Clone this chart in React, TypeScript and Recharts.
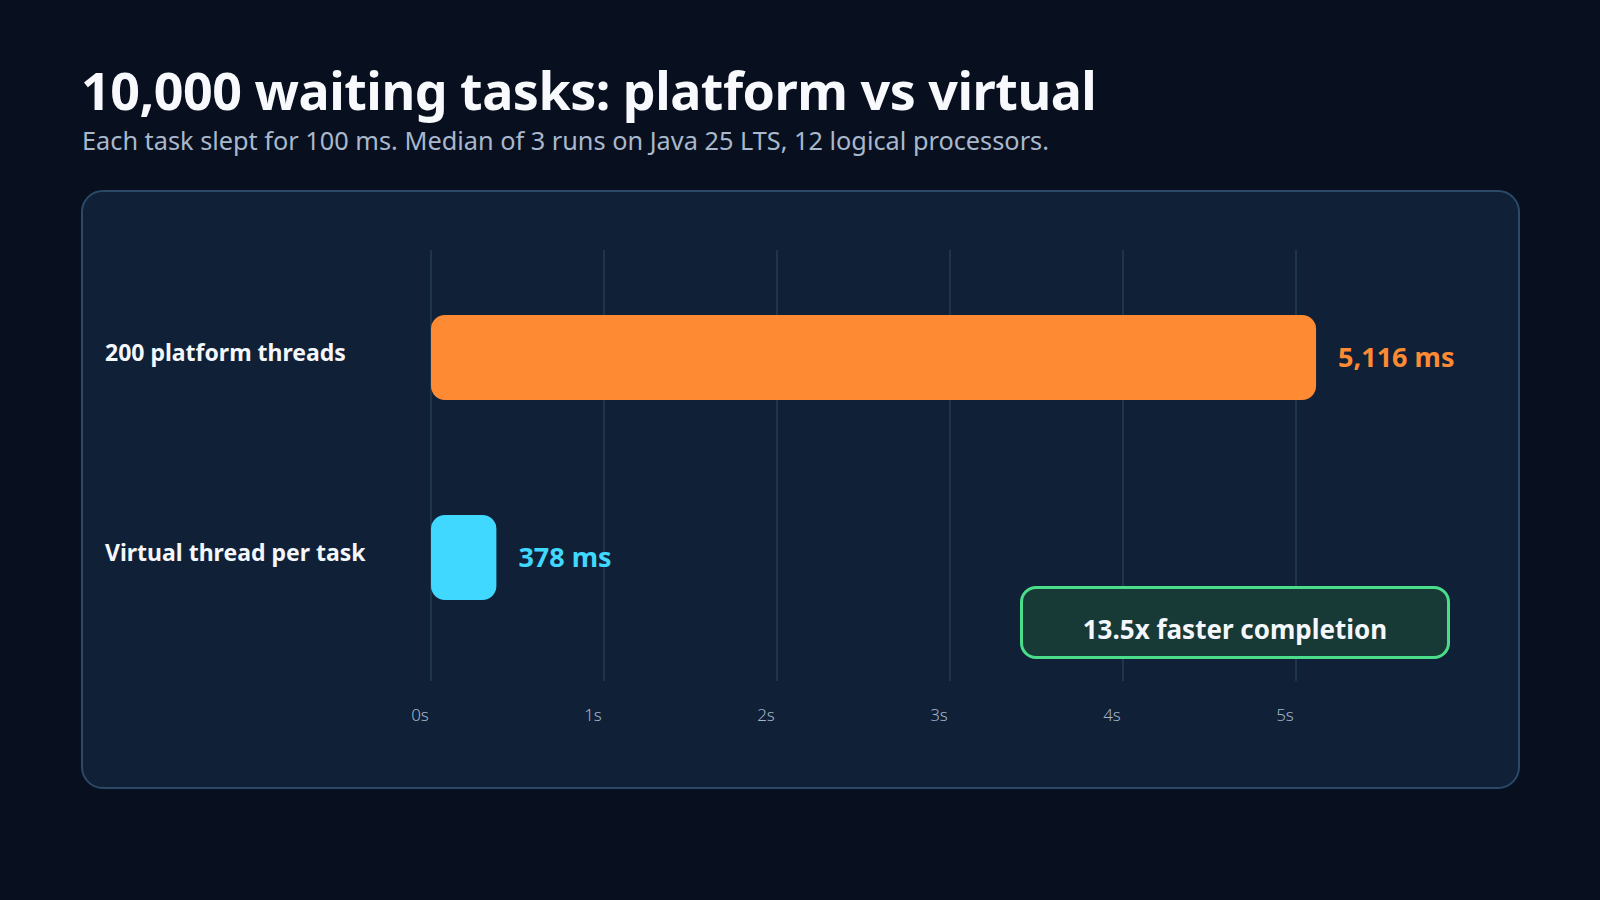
import React from "react";
import { BarChart, Bar, XAxis, YAxis, CartesianGrid, LabelList, Cell } from "recharts";

const categories = ["200 platform threads", "Virtual thread per task"];
const durationsMs = [5116, 378];
const barColors = ["#FF8A34", "#40D8FF"];
const xTicks = [0, 1000, 2000, 3000, 4000, 5000];
const xTickLabels = ["0s", "1s", "2s", "3s", "4s", "5s"];

const data = categories.map((name, i) => ({ name, value: durationsMs[i], color: barColors[i] }));
const speedup = (durationsMs[0] / durationsMs[1]).toFixed(1);

const FONT = "'Segoe UI', 'Noto Sans', 'Open Sans', sans-serif";

// eslint-disable-next-line @typescript-eslint/no-explicit-any
function CategoryTick({ y, payload }: any) {
  return (
    <text x={105} y={y} dy={-2} fill="#F4F7FB" fontSize={23} fontWeight={700} fontFamily={FONT} dominantBaseline="middle">
      {payload.value}
    </text>
  );
}

// eslint-disable-next-line @typescript-eslint/no-explicit-any
function TimeTick({ x, y, payload }: any) {
  const idx = xTicks.indexOf(payload.value);
  if (idx < 0) return null;
  return (
    <text x={x - 11} y={y + 32} fill="#A3B3C8" fontSize={17} fontFamily={FONT} textAnchor="middle" fontWeight={300}>
      {xTickLabels[idx]}
    </text>
  );
}

// eslint-disable-next-line @typescript-eslint/no-explicit-any
function ValueLabel({ x, y, width, height, value, index }: any) {
  return (
    <text
      x={x + width + 22}
      y={y + height / 2 + 2}
      fill={barColors[index]}
      fontSize={27}
      fontWeight={700}
      fontFamily={FONT}
      dominantBaseline="middle"
    >
      {`${Number(value).toLocaleString("en-US")} ms`}
    </text>
  );
}

export default function App() {
  return (
    <div style={{ position: "absolute", left: 0, top: 0, width: 1600, height: 900, background: "#08101F", fontFamily: FONT, overflow: "hidden" }}>
      <div style={{ position: "absolute", left: 81, top: 58, color: "#F7F9FC", fontSize: 52, fontWeight: 700, lineHeight: "64px", letterSpacing: -0.5, whiteSpace: "nowrap" }}>
        10,000 waiting tasks: platform vs virtual
      </div>
      <div style={{ position: "absolute", left: 82, top: 124, color: "#A9B8CC", fontSize: 25.3, lineHeight: "32px", whiteSpace: "nowrap" }}>
        Each task slept for 100 ms. Median of 3 runs on Java 25 LTS, 12 logical processors.
      </div>
      <div
        style={{
          position: "absolute",
          left: 81,
          top: 190,
          width: 1435,
          height: 595,
          background: "#0F2037",
          border: "2px solid #2A4A68",
          borderRadius: 22,
        }}
      />
      <div style={{ position: "absolute", left: 0, top: 0 }}>
        <BarChart
          width={1600}
          height={900}
          data={data}
          layout="vertical"
          margin={{ top: 250, right: 131, bottom: 159, left: 0 }}
          barCategoryGap={0}
        >
          <CartesianGrid horizontal={false} verticalValues={xTicks} stroke="#263C57" strokeWidth={1.5} />
          <XAxis
            type="number"
            domain={[0, 6000]}
            ticks={xTicks}
            axisLine={false}
            tickLine={false}
            tick={<TimeTick />}
            height={60}
            interval={0}
          />
          <YAxis
            type="category"
            dataKey="name"
            width={431}
            axisLine={false}
            tickLine={false}
            tick={<CategoryTick />}
            padding={{ top: 7, bottom: 24 }}
          />
          <Bar dataKey="value" barSize={85} radius={14} isAnimationActive={false}>
            {data.map((d, i) => (
              <Cell key={`cell-${i}`} fill={d.color} />
            ))}
            <LabelList dataKey="value" content={<ValueLabel />} />
          </Bar>
        </BarChart>
      </div>
      <div
        style={{
          position: "absolute",
          left: 1020,
          top: 586,
          width: 424,
          height: 55,
          background: "#183A36",
          border: "3px solid #4ADE8A",
          borderRadius: 16,
          color: "#F4F7FB",
          fontSize: 26,
          fontWeight: 700,
          display: "flex",
          alignItems: "center",
          justifyContent: "center",
          paddingTop: 12,
          boxSizing: "content-box",
        }}
      >
        {speedup}x faster completion
      </div>
    </div>
  );
}
